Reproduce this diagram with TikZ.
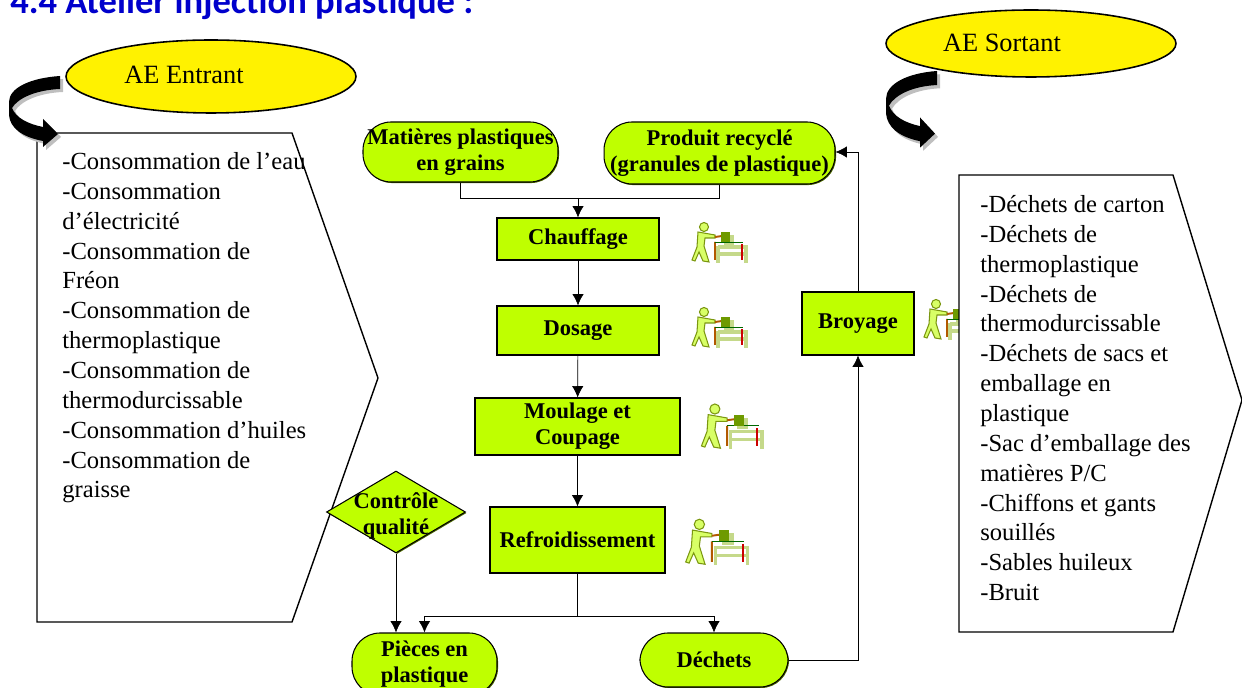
\documentclass[tikz,border=0pt]{standalone}
\usepackage{fontspec}
\setmainfont{Liberation Serif}
\newfontfamily\titlefont{Carlito}
\usepackage{tikz}
\usetikzlibrary{arrows.meta,shapes.geometric,shadows}
\definecolor{limegreen}{HTML}{BFFF00}
\definecolor{titleblue}{HTML}{0000CC}
\definecolor{paleolive}{HTML}{C5D98A}
\definecolor{boxolive}{HTML}{6E9A00}
\tikzset{
  >={Latex[length=6.5pt,width=6.5pt]},
  box/.style={draw, line width=.6pt, fill=limegreen, align=center, font=\fontsize{12.8}{14.8}\selectfont\bfseries, inner sep=0pt, general shadow={fill=black!60!limegreen, shadow xshift=.6pt, shadow yshift=-.6pt}},
  pill/.style={box, rounded corners=.56cm},
  aenode/.style={draw, line width=.9pt, fill=yellow, ellipse, inner sep=0pt},
  listtext/.style={align=left, anchor=north west, inner sep=0pt, font=\fontsize{14}{17}\selectfont},
  bentarrow/.pic={
    \fill[black!25, shift={(3,3)}] (51,0) .. controls (21,2) and (0,12) .. (0,26) -- (0,39) .. controls (1,52) and (13,61) .. (34,65) -- (34,71) -- (49,58) -- (34,43) -- (34,51) .. controls (19,48) and (7,42) .. (3,32) .. controls (9,22) and (27,14) .. (51,13) -- cycle;
    \fill (51,0) .. controls (21,2) and (0,12) .. (0,26) -- (0,39) .. controls (1,52) and (13,61) .. (34,65) -- (34,71) -- (49,58) -- (34,43) -- (34,51) .. controls (19,48) and (7,42) .. (3,32) .. controls (9,22) and (27,14) .. (51,13) -- cycle;
  },
  worker/.pic={
    \draw[paleolive, line width=1.8pt] (38,36) -- (38,53) (38,37) -- (66,37) -- (66,53) (38,44) -- (66,44);
    \fill[paleolive] (44,25) rectangle (54,35);
    \fill[limegreen!60!white, draw=olive!70!green, line width=.6pt] (18,22) -- (35,25) -- (35,28) -- (25,28) -- (24,36) -- (29,52) -- (23,51) -- (19,42) -- (15,51) -- (12,50) -- (17,37) -- cycle;
    \fill[limegreen!60!white, draw=olive!70!green, line width=.6pt] (24,17) circle (4.5);
    \draw[black!30!orange, line width=1.1pt] (35,32) -- (35,50) (35,27) -- (42,26);
    \draw[red!80!black, line width=1.1pt] (62,34) -- (62,50);
    \draw[green!40!black, line width=.4pt] (35,32) -- (63,32);
    \fill[boxolive] (41,22) rectangle (50,32);
  },
}
\begin{document}
\begin{tikzpicture}[x=.02cm,y=-.02cm]
\useasboundingbox (0,0) rectangle (1242,688);
\node[anchor=base west, inner sep=0pt, text=titleblue, font=\titlefont\fontsize{20.8}{23}\selectfont\bfseries] (title) at (10,14) {4.4 Atelier injection plastique :};

\pic at (912,287) {worker};
\draw[thick, fill=white] (37,133) -- (292,133) -- (378,378) -- (292,622) -- (37,622) -- cycle;
\draw[thick, fill=white] (959,175) -- (1173,175) -- (1242,400) -- (1173,632) -- (959,632) -- cycle;
\node[listtext] (entrant) at (62,152) {-Consommation de l’eau\\-Consommation\\d’électricité\\-Consommation de\\Fréon\\-Consommation de\\thermoplastique\\-Consommation de\\thermodurcissable\\-Consommation d’huiles\\-Consommation de\\graisse};
\node[listtext] (sortant) at (980,195) {-Déchets de carton\\-Déchets de\\thermoplastique\\-Déchets de\\thermodurcissable\\-Déchets de sacs et\\emballage en\\plastique\\-Sac d’emballage des\\matières P/C\\-Chiffons et gants\\souillés\\-Sables huileux\\-Bruit};

\pic[yscale=1.08] at (886,71) {bentarrow};
\node[aenode, minimum width=5.8cm, minimum height=1.46cm] (aein) at (211,76.5) {};
\node[aenode, minimum width=5.8cm, minimum height=1.34cm] (aeout) at (1031,43.5) {};
\node[font=\fontsize{15}{17}\selectfont] (aeintxt) at (184,75) {AE Entrant};
\node[font=\fontsize{15}{17}\selectfont] (aeouttxt) at (1002,43) {AE Sortant};
\pic at (9,76) {bentarrow};

\node[pill, minimum width=3.9cm, minimum height=1.2cm] (mat) at (460.5,152) {Matières plastiques\\en grains};
\node[pill, minimum width=4.62cm, minimum height=1.24cm] (prod) at (719.5,153) {Produit recyclé\\(granules de plastique)};
\node[box, minimum width=3.24cm, minimum height=.84cm] (chauf) at (578,239) {Chauffage};
\node[box, minimum width=3.24cm, minimum height=.98cm] (dos) at (578,330.5) {Dosage};
\node[box, minimum width=4.1cm, minimum height=1.14cm] (moul) at (577.5,426.5) {Moulage et\\Coupage};
\node[box, minimum width=3.5cm, minimum height=1.32cm] (refr) at (577.5,540) {Refroidissement};
\node[box, diamond, minimum width=2.78cm, minimum height=1.64cm, label={[align=center, yshift=-2pt, font=\fontsize{12.8}{14.8}\selectfont\bfseries]center:Contrôle\\qualité}] (ctrl) at (396,512) {};
\node[pill, minimum width=2.9cm, minimum height=1.24cm] (piece) at (424.5,664) {Pièces en\\plastique};
\node[pill, minimum width=2.96cm, minimum height=1.08cm] (dech) at (714,660) {Déchets};
\node[box, minimum width=2.24cm, minimum height=1.26cm] (broy) at (858,323.5) {Broyage};

\coordinate (joinTop) at (578,198);
\coordinate (split) at (577.5,616);
\coordinate (corner) at (858,152);
\draw (mat) |- (joinTop);
\draw (prod) |- (joinTop);
\draw[->] (joinTop) -- (chauf);
\draw[->] (chauf) -- (dos);
\draw[->] (dos) -- (moul);
\draw[->] (moul) -- (refr);
\draw (refr) -- (split);
\draw[->] (split) -| (piece);
\draw[->] (split) -| (dech);
\draw[->] (ctrl) -- (ctrl |- piece.north);
\draw[->] (dech) -| (broy);
\draw (broy) -- (corner);
\draw[->] (corner) -- (prod.east |- corner);

\pic at (680,210) {worker};
\pic at (680,295) {worker};
\pic at (688,390) [scale=1.12] {worker};
\pic at (672,505) [scale=1.14] {worker};
\end{tikzpicture}
\end{document}
